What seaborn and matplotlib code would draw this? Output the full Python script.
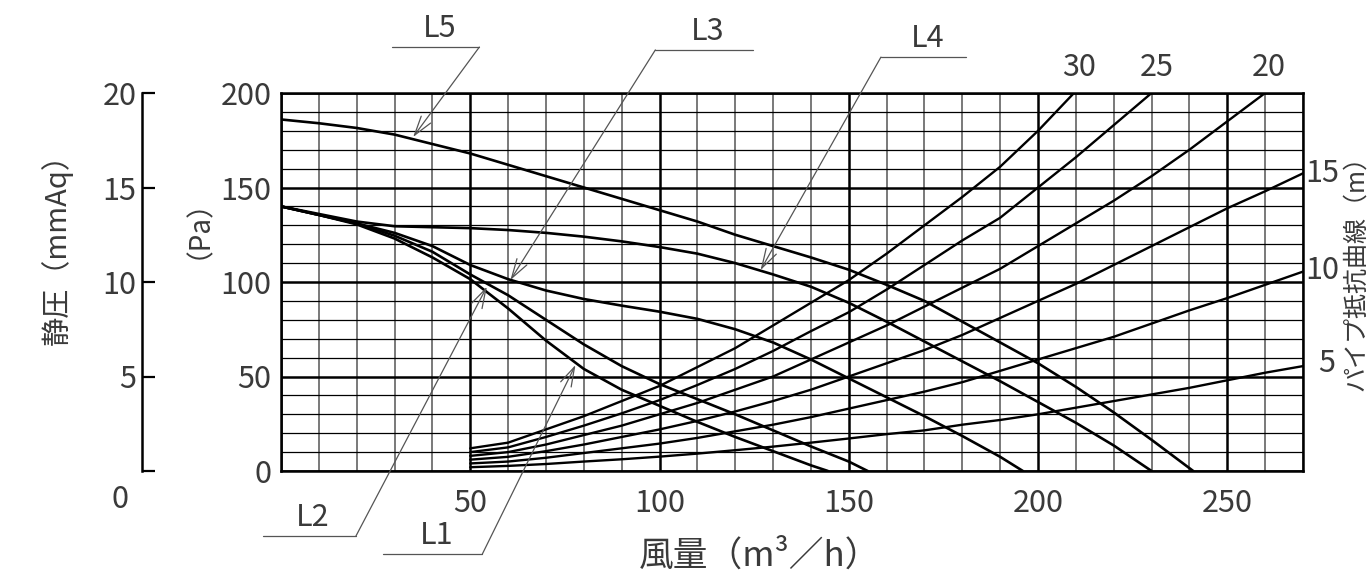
import pandas as pd
import matplotlib
matplotlib.use('Agg')
import matplotlib.pyplot as plt
import seaborn as sns

# fan curves: static pressure (Pa) vs air volume (m3/h)
q_L1 = [0, 10, 20, 30, 40, 50, 60, 70, 80, 90, 100, 110, 120, 130, 140, 144.5]
p_L1 = [140, 135.5, 130.5, 123, 113, 101.5, 86, 69, 54, 43, 34.5, 26, 18, 10.5, 3, 0]

q_L2 = [0, 10, 20, 30, 40, 50, 60, 70, 80, 90, 100, 110, 120, 130, 140, 150, 155]
p_L2 = [140, 135.5, 131, 124.5, 116, 104, 93, 80, 67, 55.5, 46, 38, 30, 21.5, 13, 5, 0]

q_L3 = [0, 10, 20, 30, 40, 50, 60, 70, 80, 90, 100, 110, 120, 130, 140, 150, 160, 170, 180, 190, 196]
p_L3 = [140, 135.5, 131, 126, 119, 109, 101.5, 95.5, 91, 87.5, 84.3, 80.5, 75, 68, 59, 49, 39, 29, 18.5, 7.5, 0]

q_L4 = [0, 10, 20, 30, 40, 50, 60, 70, 80, 90, 100, 110, 120, 130, 140, 150, 160, 170, 180, 190, 200, 210, 220, 230]
p_L4 = [140, 136, 132, 129.5, 129, 128.5, 127.5, 126, 124, 121.5, 118.5, 115, 110, 104, 97.5, 89, 79, 68.5, 58, 47.5, 36.5, 25.5, 13.5, 0]

q_L5 = [0, 10, 20, 30, 40, 50, 60, 70, 80, 90, 100, 110, 120, 130, 140, 150, 160, 170, 180, 190, 200, 210, 220, 230, 241]
p_L5 = [186, 184, 181.5, 178, 173, 168, 162, 156, 150, 144, 138, 132, 125, 119, 113, 106.5, 98.5, 90, 79, 68, 57, 44.5, 31, 16.5, 0]

# pipe resistance curves, labelled by pipe length (m)
q_30 = [50, 60, 70, 80, 90, 100, 110, 120, 130, 140, 150, 160, 170, 180, 190, 200, 209.5]
p_30 = [12, 15, 22, 29, 37, 45, 55, 65, 77, 89, 101, 115, 130, 145, 161, 180, 200]

q_25 = [50, 60, 70, 80, 90, 100, 110, 120, 130, 140, 150, 160, 170, 180, 190, 200, 210, 220, 230]
p_25 = [10, 12.5, 18, 24, 30.5, 37.5, 45.5, 54, 63.5, 74, 84, 96, 109, 122, 134, 150, 166, 183, 200]

q_20 = [50, 60, 70, 80, 90, 100, 110, 120, 130, 140, 150, 160, 170, 180, 190, 200, 210, 220, 230, 240, 250, 260]
p_20 = [8, 10, 14, 19, 24, 30, 36, 43, 50, 59, 68, 77, 87, 97, 107, 119, 131, 143, 156, 170, 185, 200]

q_15 = [50, 60, 70, 80, 90, 100, 110, 120, 130, 140, 150, 160, 170, 180, 190, 200, 210, 220, 230, 240, 250, 260, 270]
p_15 = [6, 7.5, 10.5, 14, 18, 22, 26.5, 31.5, 37, 43, 50, 57, 64, 72, 81, 90, 99, 109, 119, 129, 139, 148, 157.5]

q_10 = [50, 60, 70, 80, 90, 100, 110, 120, 130, 140, 150, 160, 170, 180, 190, 200, 210, 220, 230, 240, 250, 260, 270]
p_10 = [4, 5, 7, 9.5, 12, 14.5, 17.5, 21, 24.5, 28.5, 33, 37.5, 42, 47, 53, 59, 65, 71, 78, 85, 91.5, 98.5, 105.5]

q_5 = [50, 60, 70, 80, 90, 100, 110, 120, 130, 140, 150, 160, 170, 180, 190, 200, 210, 220, 230, 240, 250, 260, 270]
p_5 = [2, 2.7, 3.7, 5, 6.2, 7.6, 9.2, 11, 12.9, 15, 17.2, 19.5, 21.5, 24.5, 27, 30, 33.5, 37, 40.5, 44, 48, 52, 55.5]

x_ticks = [0, 50, 100, 150, 200, 250]
x_labels = ['', '50', '100', '150', '200', '250']
pa_ticks = [0, 50, 100, 150, 200]
mmaq_ticks = [0, 5, 10, 15, 20]
mmaq_labels = ['', '5', '10', '15', '20']

fans = {'L1': (q_L1, p_L1), 'L2': (q_L2, p_L2), 'L3': (q_L3, p_L3),
        'L4': (q_L4, p_L4), 'L5': (q_L5, p_L5)}
pipes = {'30': (q_30, p_30), '25': (q_25, p_25), '20': (q_20, p_20),
         '15': (q_15, p_15), '10': (q_10, p_10), '5': (q_5, p_5)}


def to_long(curves):
    rows = []
    for name, (q, p) in curves.items():
        rows += [(name, a, b) for a, b in zip(q, p)]
    return pd.DataFrame(rows, columns=['curve', 'q', 'p'])


fan_df = to_long(fans)
pipe_df = to_long(pipes)

sns.set_style("white")
plt.rcParams['font.family'] = ['Noto Sans CJK JP', 'DejaVu Sans']
txt = '#3a3a3a'

W, H = 1371, 585
fig = plt.figure(figsize=(W / 100, H / 100), dpi=100)
ax = fig.add_axes([281 / W, 1 - 471 / H, 1022 / W, 378 / H])

# grid
ax.set_xlim(0, 270)
ax.set_ylim(0, 200)
ax.set_xticks(x_ticks)
ax.set_xticklabels(x_labels)
ax.set_xticks(range(0, 271, 10), minor=True)
ax.set_yticks(pa_ticks)
ax.set_yticks(range(0, 201, 10), minor=True)
ax.xaxis.grid(which='minor', color='#6e6e6e', lw=1.3)
ax.yaxis.grid(which='minor', color='black', lw=0.9)
ax.grid(which='major', color='black', lw=1.8)
ax.tick_params(which='both', length=0)
ax.tick_params(axis='x', pad=12, labelsize=22, labelcolor=txt)
ax.tick_params(axis='y', pad=7, labelsize=22, labelcolor=txt)
for s in ax.spines.values():
    s.set_linewidth(1.8)
    s.set_color('black')

sns.lineplot(data=pipe_df, x='q', y='p', units='curve', estimator=None, sort=False,
             color='black', lw=1.7, ax=ax)
sns.lineplot(data=fan_df, x='q', y='p', units='curve', estimator=None, sort=False,
             color='black', lw=1.9, ax=ax)

# pipe length labels at curve ends
pipe_offsets = {'30': (5, 26), '25': (5, 26), '20': (4, 26),
                '15': (19, 0), '10': (19, 1), '5': (24, 3)}
for name, (q, p) in pipes.items():
    ax.annotate(name, xy=(q[-1], p[-1]), xytext=pipe_offsets[name],
                textcoords='offset pixels', ha='center', va='center',
                fontsize=22, color=txt, annotation_clip=False)

# fan curve call-outs: (arrow tip, underline start, underline end)
callouts = {
    'L5': ((34.9, 176.7), (52.4, 224.3), (29.4, 224.3)),
    'L3': ((60.6, 101), (98.9, 222.8), (124.6, 222.8)),
    'L4': ((126.7, 106.3), (158.5, 219), (181.0, 219)),
    'L2': ((54.4, 97.5), (19.8, -34.4), (-4.8, -34.4)),
    'L1': ((77.8, 56.1), (53.2, -43.9), (27.0, -43.9)),
}
for name, (tip, start, end) in callouts.items():
    ax.annotate('', xy=tip, xytext=start, annotation_clip=False,
                arrowprops=dict(arrowstyle='->,head_length=1.0,head_width=0.3',
                                mutation_scale=14, color='#555555', lw=0.9,
                                shrinkA=0, shrinkB=0))
    ax.plot([start[0], end[0]], [start[1], end[1]], color='#555555', lw=0.9,
            clip_on=False)
    ax.text((start[0] + end[0]) / 2 + 1, start[1] + 1.5, name, ha='center', va='bottom',
            fontsize=22, color=txt, clip_on=False)

# mmAq scale on the far left
sec = ax.secondary_yaxis(-0.136, functions=(lambda p: p / 10, lambda m: m * 10))
sec.set_yticks(mmaq_ticks)
sec.set_yticklabels(mmaq_labels)
sec.tick_params(direction='in', length=9.5, width=1.6, pad=4, labelsize=22,
                labelcolor=txt, color='black')
sec.spines['left'].set_linewidth(1.8)
sec.spines['left'].set_color('black')

fig.text(120 / W, 1 - 500 / H, '0', ha='center', va='center', fontsize=22, color=txt)
fig.text(57 / W, 1 - 242 / H, '静圧（mmAq）', rotation=90, ha='center', va='center',
         fontsize=21, color=txt)
fig.text(184 / W, 1 - 215 / H, '（Pa）', rotation=90, ha='center', va='center',
         fontsize=20, color=txt)
fig.text(1356 / W, 1 - 267 / H, 'パイプ抵抗曲線（m）', rotation=90, ha='center',
         va='center', fontsize=18, color=txt)

ax.set_xlabel('風量（m³／h）', fontsize=25, color=txt)
ax.xaxis.set_label_coords(0.468, -0.18)
ax.set_ylabel('')

fig.savefig('out.png', dpi=100)
